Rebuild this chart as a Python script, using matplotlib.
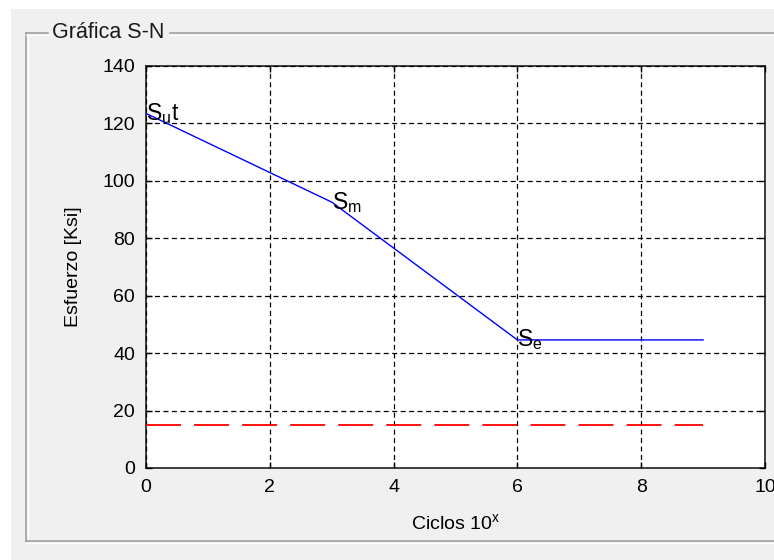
import matplotlib
matplotlib.use("Agg")
import matplotlib.pyplot as plt
from matplotlib.lines import Line2D
from matplotlib.patches import Rectangle

# S-N curve values (x = exponent of cycles, y = stress in ksi)
cycle_exp = [0, 3, 6, 9]
stress_ksi = [123.5, 92.6, 44.6, 44.6]
point_labels = ["S$_u$t", "S$_m$", "S$_e$"]

# applied stress reference line
applied_exp = [0, 9]
applied_ksi = [15, 15]

x_ticks = [0, 2, 4, 6, 8, 10]
y_ticks = [0, 20, 40, 60, 80, 100, 120, 140]

plt.rcParams["font.family"] = ["Liberation Sans", "DejaVu Sans"]
plt.rcParams["mathtext.default"] = "regular"
plt.rcParams["mathtext.fontset"] = "custom"
plt.rcParams["mathtext.rm"] = "Liberation Sans"
plt.rcParams["lines.scale_dashes"] = False

W, H = 774, 560
BG = "#f0f0f0"


def px_x(x):
    return x / W


def px_y(y):
    return 1 - y / H


fig = plt.figure(figsize=(W / 100, H / 100), dpi=100, facecolor=BG)

# white strip along the top and left of the screenshot
fig.patches.append(Rectangle((0, px_y(9)), 1, 9 / H, transform=fig.transFigure,
                             facecolor="white", edgecolor="none", zorder=0))
fig.patches.append(Rectangle((0, 0), 11 / W, 1, transform=fig.transFigure,
                             facecolor="white", edgecolor="none", zorder=0))

# etched panel border (dark line + white highlight)
def etched(xs, ys):
    fig.add_artist(Line2D([px_x(v) for v in xs], [px_y(v) for v in ys],
                          transform=fig.transFigure, color="#a0a0a0", lw=1.2))
    fig.add_artist(Line2D([px_x(v + 1.5 if xs[0] == xs[1] else v) for v in xs],
                          [px_y(v + 1.5 if ys[0] == ys[1] else v) for v in ys],
                          transform=fig.transFigure, color="white", lw=1.0))

etched([26, 26], [33, 541])
etched([26, 780], [541, 541])
etched([26, 48], [33, 33])
etched([170, 780], [33, 33])
fig.text(px_x(52), px_y(33), "Gráfica S-N", fontsize=15.5, color="#1a1a1a",
         ha="left", va="center")

ax = fig.add_axes([146 / W, 1 - 468 / H, 619 / W, 402 / H])
ax.set_facecolor("white")

ax.plot(cycle_exp, stress_ksi, color="blue", lw=1.0, zorder=3)
ax.plot(applied_exp, applied_ksi, color="red", lw=1.3,
        linestyle=(0, (25.2, 9.4)), zorder=3)

for x, y, lab in zip(cycle_exp[:3], stress_ksi[:3], point_labels):
    ax.text(x, y, lab, fontsize=16.5, ha="left", va="center", color="black",
            zorder=4, clip_on=False)

ax.set_xlim(0, 10)
ax.set_ylim(0, 140)
ax.set_xticks(x_ticks)
ax.set_yticks(y_ticks)
ax.grid(True, color="black", lw=0.9, linestyle=(0, (3.6, 2.5)))
ax.set_axisbelow(False)

ax.tick_params(direction="in", length=4.5, width=1.0, top=True, right=True,
               labelsize=14, colors="black")
ax.tick_params(axis="x", pad=8)
ax.tick_params(axis="y", pad=8)
for sp in ax.spines.values():
    sp.set_linewidth(1.2)
    sp.set_color("#202020")

ax.set_xlabel("Ciclos 10$^x$", fontsize=14)
ax.set_ylabel("Esfuerzo [Ksi]", fontsize=14)
ax.xaxis.set_label_coords(0.5, -0.112)
ax.xaxis.label.set_va("top")
ax.yaxis.set_label_coords(-0.103, 0.5)

fig.savefig("out.png", dpi=100, facecolor=BG)
